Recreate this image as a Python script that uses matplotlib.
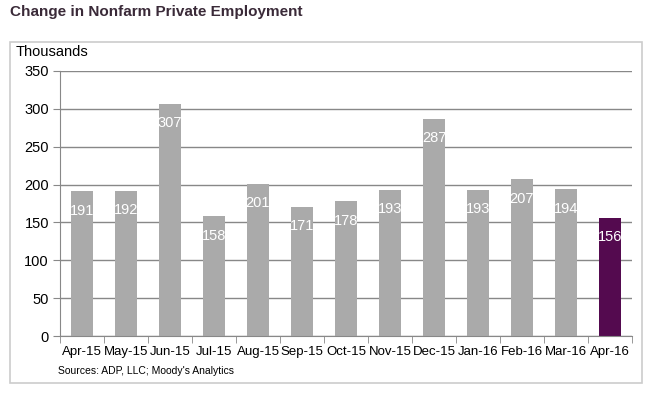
import matplotlib.pyplot as plt
from matplotlib.patches import Rectangle

plt.rcParams['font.family'] = ['Liberation Sans', 'DejaVu Sans']

months = ['Apr-15', 'May-15', 'Jun-15', 'Jul-15', 'Aug-15', 'Sep-15', 'Oct-15',
          'Nov-15', 'Dec-15', 'Jan-16', 'Feb-16', 'Mar-16', 'Apr-16']
jobs = [191, 192, 307, 158, 201, 171, 178, 193, 287, 193, 207, 194, 156]
colors = ['#aaaaaa'] * 12 + ['#540a4f']

fig = plt.figure(figsize=(6.54, 3.93), dpi=100)
ax = fig.add_axes([60 / 654, 1 - 336 / 393, 572 / 654, 265 / 393])

x = range(len(months))
ax.bar(x, jobs, width=0.5, color=colors, zorder=2)
for i, v in enumerate(jobs):
    ax.annotate(str(v), (i, v), xytext=(0, -14), textcoords='offset points',
                ha='center', va='center', color='white', fontsize=10.5, zorder=3)

ax.set_xlim(-0.5, len(months) - 0.5)
ax.set_ylim(0, 350)
ax.set_yticks(range(0, 351, 50))
ax.set_xticks(list(x))
ax.set_xticklabels(months, fontsize=9.5)
ax.tick_params(axis='x', length=0, pad=7)
ax.set_xticks([i + 0.5 for i in range(-1, len(months))], minor=True)
ax.tick_params(axis='x', which='minor', length=5, color='#888888')
ax.tick_params(axis='y', labelsize=10.5, length=5, color='#888888', pad=3)
ax.grid(axis='y', color='#888888', linewidth=1, zorder=1)
for s in ['top', 'right']:
    ax.spines[s].set_visible(False)
ax.spines['left'].set_color('#888888')
ax.spines['bottom'].set_color('#888888')

fig.add_artist(Rectangle((10 / 654, 1 - 383 / 393), 632 / 654, 341 / 393,
                         transform=fig.transFigure, fill=False,
                         edgecolor='#cccccc', linewidth=1.2))

fig.text(10 / 654, 1 - 12 / 393, 'Change in Nonfarm Private Employment',
         fontsize=11, fontweight='bold', color='#3a2a38', va='center')
fig.text(16 / 654, 1 - 52 / 393, 'Thousands', fontsize=10.5, va='center')
fig.text(58 / 654, 1 - 371 / 393, "Sources: ADP, LLC; Moody's Analytics",
         fontsize=7.5, va='center')

plt.savefig('out.png', dpi=100)
